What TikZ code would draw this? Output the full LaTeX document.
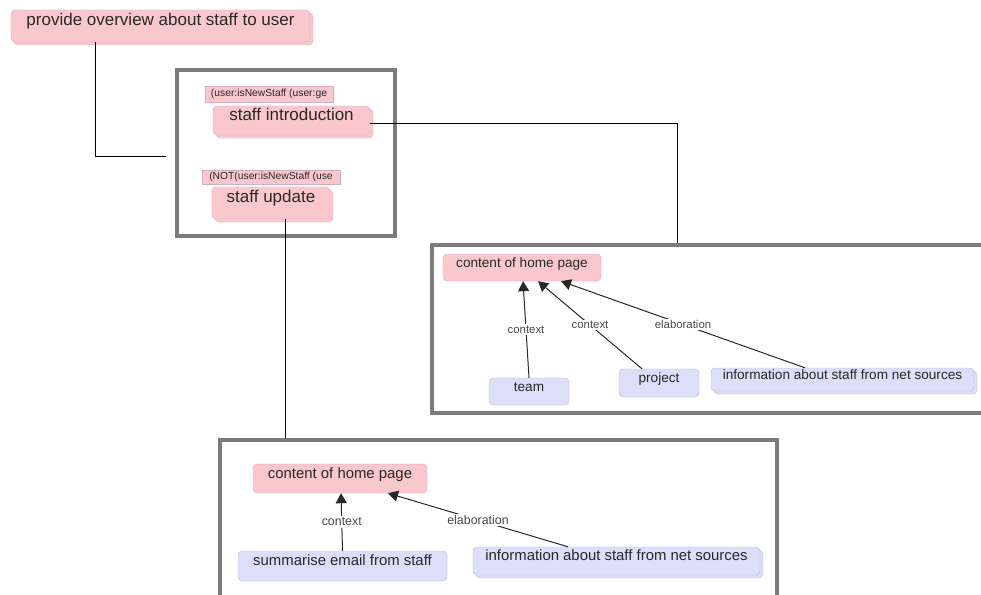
\documentclass[tikz,border=0pt]{standalone}
\usepackage{fontspec}
\setmainfont{Liberation Sans}
\usetikzlibrary{arrows.meta,shadows}
\definecolor{pinkfill}{RGB}{250,200,204}
\definecolor{pinkline}{RGB}{214,172,192}
\definecolor{bluefill}{RGB}{221,222,250}
\definecolor{blueline}{RGB}{184,184,226}
\definecolor{framegray}{RGB}{124,124,124}
\definecolor{inkgray}{RGB}{40,40,40}

\begin{document}
\begin{tikzpicture}[x=1pt,y=-1pt,
  box/.style={rounded corners=4pt,inner sep=0pt,text=inkgray,text height=0.75em,text depth=0.78em},
  pinkbox/.style={box,draw=pinkline,fill=pinkfill},
  bluebox/.style={box,draw=blueline,fill=bluefill},
  twin/.style={copy shadow={shadow xshift=3pt,shadow yshift=-3pt,rounded corners=4pt}},
  cond/.style={draw=pinkline,fill=pinkfill,inner sep=0pt,text=inkgray,font=\fontsize{10.3}{12}\selectfont},
  grp/.style={draw=framegray,fill=white,line width=4pt,inner sep=0pt},
  rel/.style={draw=inkgray,line width=1pt,-{Triangle[width=11pt,length=10pt]}},
  tag/.style={midway,fill=white,inner sep=1.5pt,text=inkgray!85}]
\useasboundingbox (0,0) rectangle (981,594);

\node [grp,minimum width=218,minimum height=166] (g1) at (286,153) {};
\node [grp,minimum width=568,minimum height=168.5] (g2) at (716,328.75) {};
\node [grp,minimum width=557,minimum height=170] (g3) at (498,525) {};

\node [pinkbox,twin,minimum width=299,minimum height=32,font=\fontsize{17}{20}\selectfont] (ov) at (160.5,26) {provide overview about staff to user};

\node [cond,minimum width=128,minimum height=16] (c1) at (269,94) {(user:isNewStaff (user:ge};
\node [pinkbox,twin,minimum width=157,minimum height=29,font=\fontsize{17}{20}\selectfont] (intro) at (291.5,120.5) {staff introduction};
\node [cond,minimum width=138,minimum height=14] (c2) at (271,177) {(NOT(user:isNewStaff (use};
\node [pinkbox,twin,minimum width=118,minimum height=32,font=\fontsize{17}{20}\selectfont] (upd) at (271,203) {staff update};

\begin{scope}[every node/.append style={font=\fontsize{13.6}{16}\selectfont}]
\node [pinkbox,minimum width=158,minimum height=27] (cp1) at (522,267.5) {content of home page};
\node [bluebox,minimum width=80,minimum height=27] (team) at (529,391.5) {team};
\node [bluebox,minimum width=80,minimum height=28] (proj) at (659,383) {project};
\node [bluebox,twin,minimum width=263,minimum height=23] (net1) at (842.5,379.5) {information about staff from net sources};
\end{scope}

\begin{scope}[every node/.append style={font=\fontsize{14.9}{18}\selectfont}]
\node [pinkbox,minimum width=174,minimum height=29] (cp2) at (340,478.5) {content of home page};
\node [bluebox,minimum width=209,minimum height=30] (sum) at (342.5,566) {summarise email from staff};
\node [bluebox,twin,minimum width=287,minimum height=28] (net2) at (616.5,561) {information about staff from net sources};
\end{scope}

\draw [line width=1pt] ([xshift=-65.5pt]ov.south) |- ([xshift=-9pt,yshift=-3pt]g1.west);
\draw [line width=1pt] ([yshift=-2.5pt]intro.east) -| ([xshift=247pt]g2.north west);
\draw [line width=1pt] ([xshift=14pt]upd.south) -- ([xshift=14pt]upd.south |- g3.north);

\begin{scope}[every node/.append style={font=\fontsize{11.4}{13}\selectfont}]
\draw [rel] (team.north) -- node [tag] (l1) {context} ([xshift=1pt]cp1.south);
\draw [rel] ([xshift=-17pt]proj.north) -- node [tag] (l2) {context} ([xshift=16pt]cp1.south);
\draw [rel] ([xshift=-37.5pt]net1.north) -- node [tag] (l3) {elaboration} ([xshift=39pt]cp1.south);
\end{scope}

\begin{scope}[every node/.append style={font=\fontsize{12.4}{14}\selectfont}]
\draw [rel] (sum.north) -- node [tag] (l4) {context} ([xshift=1pt]cp2.south);
\draw [rel] ([xshift=-48.5pt]net2.north) -- node [tag] (l5) {elaboration} ([xshift=48pt]cp2.south);
\end{scope}
\end{tikzpicture}
\end{document}
